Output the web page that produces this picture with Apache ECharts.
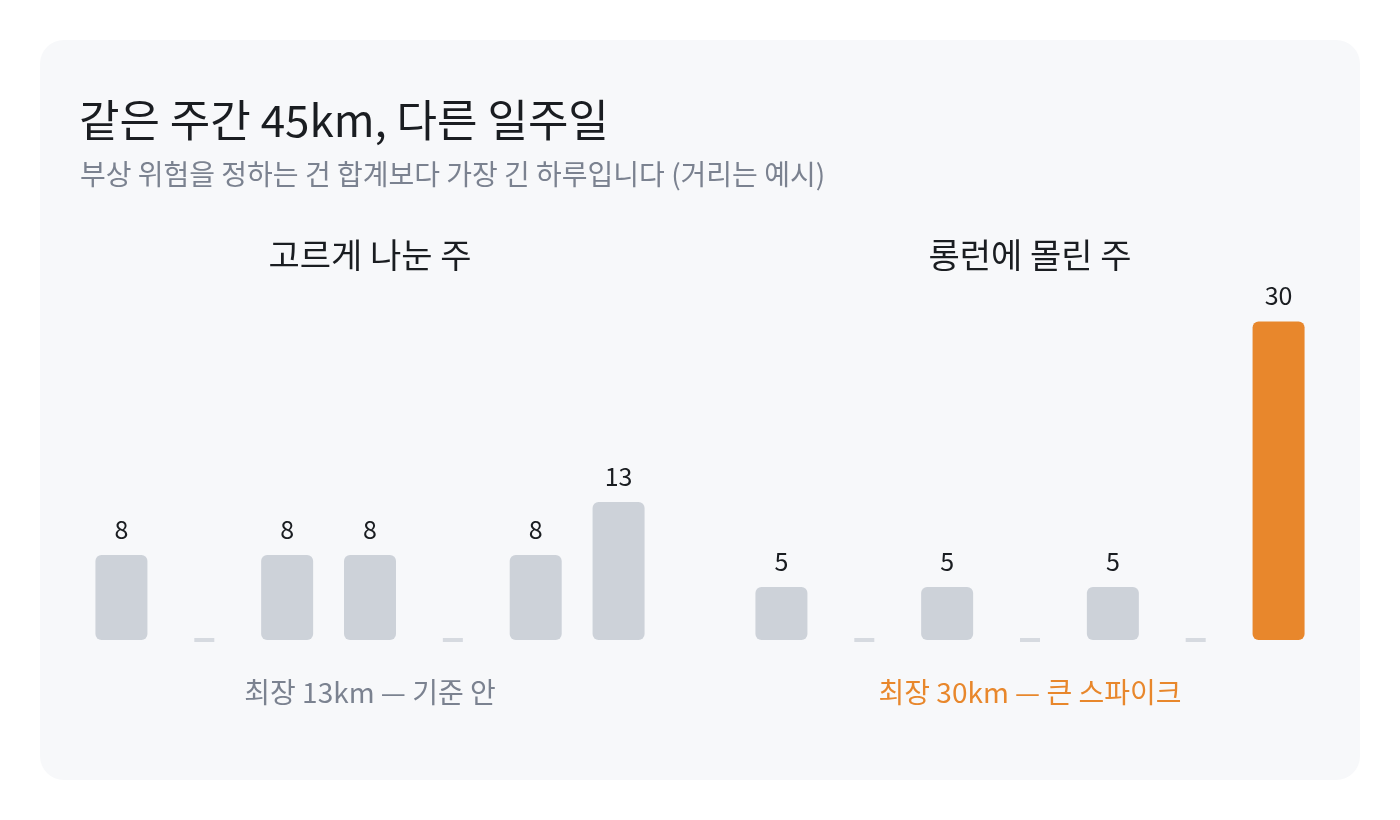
<!DOCTYPE html>
<html>
<head>
<meta charset="utf-8">
<script src="https://cdn.jsdelivr.net/npm/echarts@6/dist/echarts.min.js"></script>
<style>
html,body{margin:0;padding:0;background:#ffffff;}
#chart{width:1400px;height:820px;}
</style>
</head>
<body>
<div id="chart"></div>
<script>
// ---- data ----
const days = ['월', '화', '수', '목', '금', '토', '일'];
const evenWeek = [8, 0, 8, 8, 0, 8, 13];
const spikeWeek = [5, 0, 5, 0, 5, 0, 30];
const titleText = '같은 주간 45km, 다른 일주일';
const subtitleText = '부상 위험을 정하는 건 합계보다 가장 긴 하루입니다 (거리는 예시)';
const panelTitles = ['고르게 나눈 주', '롱런에 몰린 주'];
const panelNotes = ['최장 13km — 기준 안', '최장 30km — 큰 스파이크'];

// ---- style ----
const FONT = '"Noto Sans CJK KR", "Noto Sans", sans-serif';
const GRAY = '#cdd2d9';
const ORANGE = '#e8872c';
const TEXT = '#1a1d21';
const MUTED = '#7b8290';

function zeroPoints(arr) {
  return arr.map((v, i) => v === 0 ? [i, 0] : null).filter(d => d);
}
function barData(arr, highlightMax) {
  const mx = Math.max(...arr);
  return arr.map(v => ({
    value: v,
    itemStyle: { color: (highlightMax && v === mx) ? ORANGE : GRAY }
  }));
}

const grids = [
  { left: 80, width: 580, top: 321.5, bottom: 180 },
  { left: 740, width: 580, top: 321.5, bottom: 180 }
];

const chart = echarts.init(document.getElementById('chart'), null, { renderer: 'canvas' });

const labelCfg = {
  show: true,
  position: 'top',
  distance: 13,
  fontFamily: FONT,
  fontSize: 25,
  color: TEXT,
  formatter: p => p.value === 0 ? '' : String(p.value)
};

chart.setOption({
  backgroundColor: '#ffffff',
  animation: false,
  graphic: [{
    type: 'rect',
    shape: { x: 40, y: 40, width: 1320, height: 740, r: 24 },
    style: { fill: '#f7f8fa' },
    z: -10
  }],
  title: [
    { text: titleText, left: 74, top: 93, textStyle: { fontFamily: FONT, fontSize: 44, fontWeight: 'normal', color: TEXT, lineHeight: 44 } },
    { text: subtitleText, left: 75, top: 153, textStyle: { fontFamily: FONT, fontSize: 28, fontWeight: 'normal', color: MUTED, lineHeight: 32 } },
    { text: panelTitles[0], left: 365, textAlign: 'center', top: 231, textStyle: { fontFamily: FONT, fontSize: 34, fontWeight: 'normal', color: TEXT, lineHeight: 38 } },
    { text: panelTitles[1], left: 1025, textAlign: 'center', top: 231, textStyle: { fontFamily: FONT, fontSize: 34, fontWeight: 'normal', color: TEXT, lineHeight: 38 } },
    { text: panelNotes[0], left: 365, textAlign: 'center', top: 671, textStyle: { fontFamily: FONT, fontSize: 28, fontWeight: 'normal', color: MUTED, lineHeight: 32 } },
    { text: panelNotes[1], left: 1025, textAlign: 'center', top: 671, textStyle: { fontFamily: FONT, fontSize: 28, fontWeight: 'normal', color: ORANGE, lineHeight: 32 } }
  ],
  grid: grids,
  xAxis: [0, 1].map(i => ({
    type: 'category', gridIndex: i, data: days,
    axisLine: { show: false }, axisTick: { show: false }, axisLabel: { show: false }, splitLine: { show: false }
  })),
  yAxis: [0, 1].map(i => ({
    type: 'value', gridIndex: i, min: 0, max: 30,
    axisLine: { show: false }, axisTick: { show: false }, axisLabel: { show: false }, splitLine: { show: false }
  })),
  series: [
    {
      type: 'bar', xAxisIndex: 0, yAxisIndex: 0, barWidth: 52,
      data: barData(evenWeek, false),
      itemStyle: { borderRadius: 6 },
      label: labelCfg
    },
    {
      type: 'bar', xAxisIndex: 1, yAxisIndex: 1, barWidth: 52,
      data: barData(spikeWeek, true),
      itemStyle: { borderRadius: 6 },
      label: labelCfg
    },
    {
      type: 'scatter', xAxisIndex: 0, yAxisIndex: 0,
      symbol: 'rect', symbolSize: [20, 4],
      itemStyle: { color: GRAY },
      data: zeroPoints(evenWeek), silent: true
    },
    {
      type: 'scatter', xAxisIndex: 1, yAxisIndex: 1,
      symbol: 'rect', symbolSize: [20, 4],
      itemStyle: { color: GRAY },
      data: zeroPoints(spikeWeek), silent: true
    }
  ]
});
</script>
</body>
</html>
